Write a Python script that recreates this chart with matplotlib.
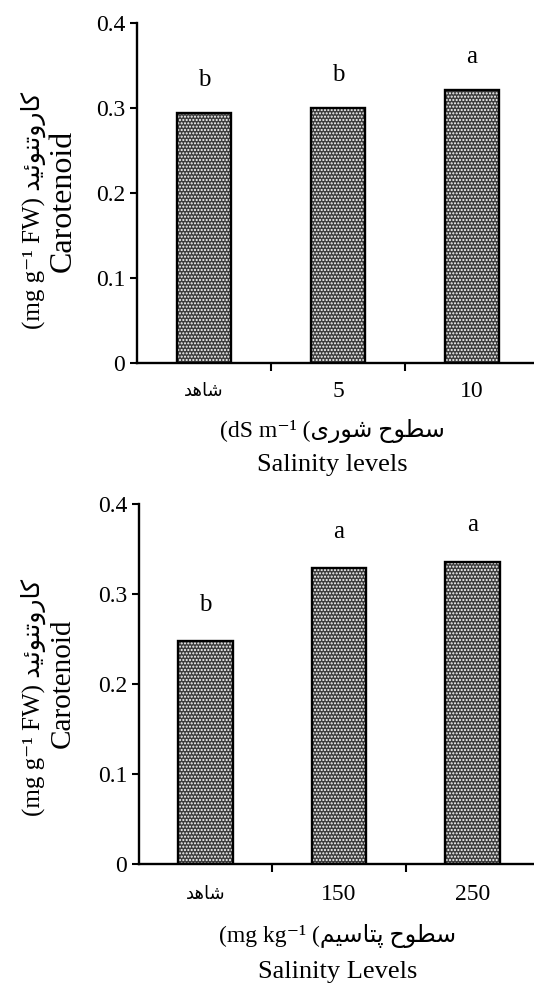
import matplotlib
matplotlib.use('Agg')
import matplotlib.pyplot as plt

plt.rcParams['font.family'] = ['Liberation Serif', 'DejaVu Sans']
plt.rcParams['hatch.linewidth'] = 1.0

# Persian words, written as presentation forms in visual (left to right) order
shahed = '\uFEAA\uFEEB\uFE8E\uFEB7'                      # شاهد
sotuh = '\uFEA1\uFEEE\uFEC4\uFEB3'                       # سطوح
shuri = '\uFBFC\uFEAD\uFEEE\uFEB7'                       # شوری
potasim = '\uFEE2\uFBFF\uFEB3\uFE8E\uFE98\uFB58'         # پتاسیم
carotenoid_fa = '\uFEAA\uFBFF\uFE8B\uFEEE\uFEE8\uFE97\uFEED\uFEAD\uFE8E\uFB90'  # کاروتنوئید

# top chart: salinity
sal_labels = [shahed, '5', '10']
sal_values = [0.294, 0.300, 0.321]
sal_letters = ['b', 'b', 'a']

# bottom chart: potassium
pot_labels = [shahed, '150', '250']
pot_values = [0.248, 0.329, 0.336]
pot_letters = ['b', 'a', 'a']

yticks = [0, 0.1, 0.2, 0.3, 0.4]
ytick_labels = ['0', '0.1', '0.2', '0.3', '0.4']

fig = plt.figure(figsize=(5.34, 9.85), dpi=100)


def draw(ax, labels, values, letters, xlab_fa, xlab_en, letter_off, xc):
    x = range(len(values))
    ax.bar(x, values, width=0.41, color='#3c3c3c', edgecolor='white',
           linewidth=0, hatch='.....')
    ax.bar(x, values, width=0.41, fill=False, edgecolor='black', linewidth=1.7)
    for xi, v, t in zip(x, values, letters):
        ax.annotate(t, (xi, v), xytext=(0, letter_off), textcoords='offset points',
                    ha='center', va='center', fontsize=18)
    ax.set_xlim(-0.5, 2.5)
    ax.set_ylim(0, 0.4)
    ax.set_yticks(yticks)
    ax.set_yticklabels(ytick_labels, fontsize=17)
    ax.set_xticks([0.5, 1.5])
    ax.set_xticklabels([])
    ax.tick_params(axis='both', direction='out', width=1.5, length=5)
    ax.tick_params(axis='x', length=6)
    for xi, lab in zip(x, labels):
        ax.text(xi, -0.085, lab, transform=ax.get_xaxis_transform(),
                ha='center', va='center', fontsize=17 if lab != shahed else 13)
    ax.text(xc, -0.2, xlab_fa, transform=ax.get_xaxis_transform(),
            ha='center', va='center', fontsize=17)
    ax.text(xc, -0.3, xlab_en, transform=ax.get_xaxis_transform(),
            ha='center', va='center', fontsize=19)
    ax.spines['top'].set_visible(False)
    ax.spines['right'].set_visible(False)
    ax.spines['left'].set_linewidth(1.7)
    ax.spines['bottom'].set_linewidth(1.7)


ax1 = fig.add_axes([137 / 534, 1 - 363 / 985, 402 / 534, 340 / 985])
draw(ax1, sal_labels, sal_values, sal_letters,
     '(dS m\u207B\u00B9 (' + shuri + ' ' + sotuh, 'Salinity levels', 24, 0.955)

ax2 = fig.add_axes([139 / 534, 1 - 864 / 985, 400 / 534, 360 / 985])
draw(ax2, pot_labels, pot_values, pot_letters,
     '(mg kg\u207B\u00B9 (' + potasim + ' ' + sotuh, 'Salinity Levels', 26, 0.99)

ylab_fa = '(mg g\u207B\u00B9 FW) ' + carotenoid_fa
fig.text(33 / 534, 1 - 210 / 985, ylab_fa, rotation=90, ha='center', va='center', fontsize=18)
fig.text(63 / 534, 1 - 201 / 985, 'Carotenoid', rotation=90, ha='center', va='center', fontsize=23)
fig.text(33 / 534, 1 - 697 / 985, ylab_fa, rotation=90, ha='center', va='center', fontsize=18)
fig.text(63 / 534, 1 - 683 / 985, 'Carotenoid', rotation=90, ha='center', va='center', fontsize=21)

fig.savefig('out.png', dpi=100)
